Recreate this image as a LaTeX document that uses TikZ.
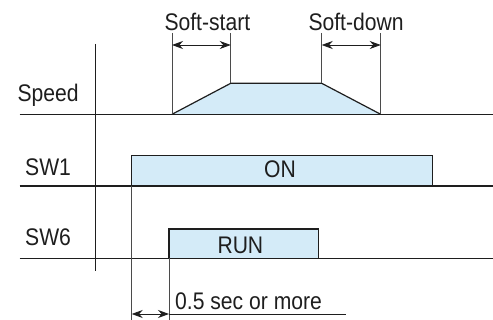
\documentclass[tikz,border=0pt]{standalone}
\usepackage{fontspec}
\setmainfont{Liberation Sans}[FakeStretch=0.88]
\usetikzlibrary{arrows.meta}
\definecolor{sigblue}{RGB}{212,235,248}
\definecolor{ink}{RGB}{30,30,30}
\begin{document}
\begin{tikzpicture}[x=1pt,y=-1pt,
  lbl/.style={anchor=base west,inner sep=0pt,text=ink,font=\fontsize{24}{28}\selectfont},
  axis/.style={line width=1.4pt,draw=ink},
  guide/.style={line width=0.9pt,draw=ink!80},
  sig/.style={fill=sigblue,draw=ink,line width=1.2pt},
  dimarrow/.style={line width=0.8pt,draw=ink,{Stealth[length=11pt,width=8pt]}-{Stealth[length=11pt,width=8pt]}}]
\useasboundingbox (0,0) rectangle (493,320);
% coordinates
\coordinate (axT) at (95.7,44);
\coordinate (axB) at (95.7,271);
\coordinate (spL) at (19.5,114.3);
\coordinate (spR) at (493,114.3);
\coordinate (w1L) at (19.5,186);
\coordinate (w1R) at (493,186);
\coordinate (w6L) at (19.5,258.3);
\coordinate (w6R) at (493,258.3);
\coordinate (t0) at (172,114.3);
\coordinate (t1) at (230.7,83.3);
\coordinate (t2) at (321.7,83.3);
\coordinate (t3) at (380.7,114.3);
\coordinate (g0) at (172,33);
\coordinate (g1) at (230.7,33);
\coordinate (g2) at (321.7,33);
\coordinate (g3) at (380.7,33);
\coordinate (a0) at (172,45);
\coordinate (a1) at (230.7,45);
\coordinate (a2) at (321.7,45);
\coordinate (a3) at (380.7,45);
\coordinate (b1tl) at (131.7,155.7);
\coordinate (b1br) at (432.3,186);
\coordinate (b6tl) at (169,229);
\coordinate (b6br) at (318.7,258.3);
\coordinate (v1T) at (131.7,186);
\coordinate (v1B) at (131.7,320);
\coordinate (v6T) at (169,258.3);
\coordinate (v6B) at (169,320);
\coordinate (d0) at (131.7,314);
\coordinate (d1) at (169,314);
\coordinate (u1) at (345.5,314);
% fills
\fill[sigblue] (t0) -- (t1) -- (t2) -- (t3) -- cycle;
\draw[sig] (t0) -- (t1) -- (t2) -- (t3);
\draw[sig] (b1br) |- (b1tl) |- cycle;
\draw[sig] (b6tl) rectangle (b6br);
% axes
\draw[axis] (axT) -- (axB);
\draw[axis] (spL) -- (spR);
\draw[axis] (w1L) -- (w1R);
\draw[axis] (w6L) -- (w6R);
% guides
\draw[guide] (g0) -- (t0);
\draw[guide] (g1) -- (t1);
\draw[guide] (g2) -- (t2);
\draw[guide] (g3) -- (t3);
\draw[guide] (v1T) -- (v1B);
\draw[guide] (v6T) -- (v6B);
% dimension arrows
\draw[dimarrow] (a0) -- (a1);
\draw[dimarrow] (a2) -- (a3);
\draw[dimarrow] (d0) -- (d1);
\draw[line width=0.9pt,draw=ink] (d1) -- (u1);
% labels
\node[lbl] (lss) at (164.3,31) {Soft-start};
\node[lbl] (lsd) at (308.3,31) {Soft-down};
\node[lbl] (lsp) at (17.3,101.7) {Speed};
\node[lbl] (lw1) at (25,175.5) {SW1};
\node[lbl] (lw6) at (25,246) {SW6};
\node[lbl] (lon) at (264,177.3) {ON};
\node[lbl] (lrun) at (217.3,253.3) {RUN};
\node[lbl] (lsec) at (175,309.3) {0.5 sec or more};
\end{tikzpicture}
\end{document}
